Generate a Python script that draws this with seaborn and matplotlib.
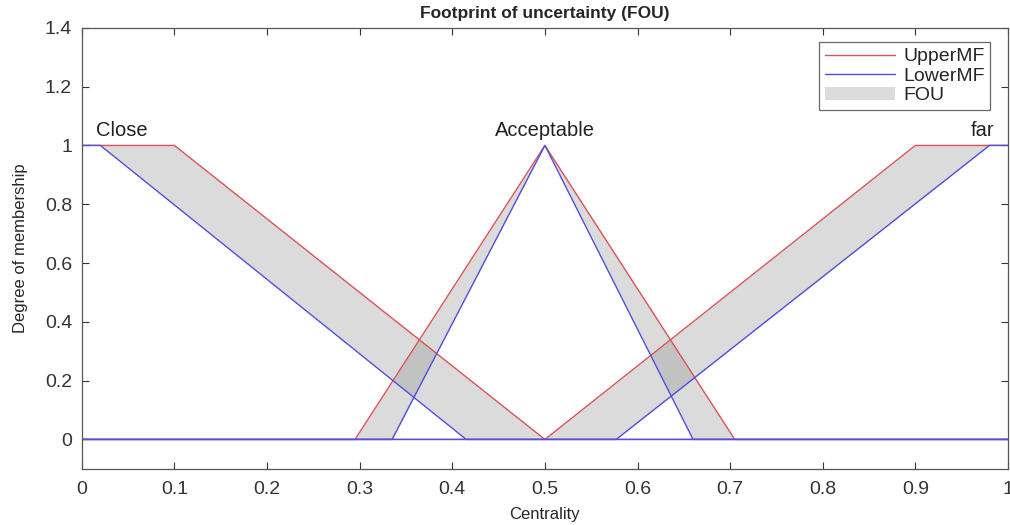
import numpy as np
import pandas as pd
import seaborn as sns
from matplotlib import pyplot as plt
from matplotlib.patches import Patch
from matplotlib.lines import Line2D

# membership function breakpoints (centrality, degree)
mf_names = ['Close', 'Acceptable', 'far']
upper_x = [[0.0, 0.1, 0.5, 1.0], [0.0, 0.295, 0.5, 0.705, 1.0], [0.0, 0.5, 0.9, 1.0]]
upper_y = [[1.0, 1.0, 0.0, 0.0], [0.0, 0.0, 1.0, 0.0, 0.0], [0.0, 0.0, 1.0, 1.0]]
lower_x = [[0.0, 0.02, 0.415, 1.0], [0.0, 0.335, 0.5, 0.66, 1.0], [0.0, 0.577, 0.98, 1.0]]
lower_y = [[1.0, 1.0, 0.0, 0.0], [0.0, 0.0, 1.0, 0.0, 0.0], [0.0, 0.0, 1.0, 1.0]]
label_x = [0.015, 0.5, 0.985]
label_y = 1.02
label_ha = ['left', 'center', 'right']

red = '#d9535a'
blue = '#5050dc'
fou = '#8a8a8a'

if __name__ == '__main__':
    sns.set_style('ticks')
    plt.rcParams['font.family'] = ['Liberation Sans', 'DejaVu Sans']

    rows = []
    for i, name in enumerate(mf_names):
        for x, y in zip(upper_x[i], upper_y[i]):
            rows.append({'mf': name, 'kind': 'UpperMF', 'x': x, 'y': y})
        for x, y in zip(lower_x[i], lower_y[i]):
            rows.append({'mf': name, 'kind': 'LowerMF', 'x': x, 'y': y})
    Data = pd.DataFrame(rows)
    Data['unit'] = Data['mf'] + Data['kind']

    fig = plt.figure(figsize=(10.1, 5.25), dpi=100)
    ax = fig.add_axes([0.081, 0.107, 0.917, 0.84])

    # FOU shading
    for i in range(len(mf_names)):
        xs = np.unique(np.concatenate([upper_x[i], lower_x[i]]))
        up = np.interp(xs, upper_x[i], upper_y[i])
        lo = np.interp(xs, lower_x[i], lower_y[i])
        ax.fill_between(xs, lo, up, color=fou, alpha=0.3, linewidth=0)

    sns.lineplot(data=Data[Data['kind'] == 'UpperMF'], x='x', y='y', units='unit',
                 estimator=None, sort=False, color=red, linewidth=1.0, ax=ax)
    sns.lineplot(data=Data[Data['kind'] == 'LowerMF'], x='x', y='y', units='unit',
                 estimator=None, sort=False, color=blue, linewidth=1.0, ax=ax)

    for i, name in enumerate(mf_names):
        ax.text(label_x[i], label_y, name, ha=label_ha[i], va='bottom', fontsize=14.5, color='#222222')

    ax.set_xlim(0, 1)
    ax.set_ylim(-0.1, 1.4)
    ax.set_xticks(np.arange(0, 1.01, 0.1))
    ax.set_xticklabels(['0', '0.1', '0.2', '0.3', '0.4', '0.5', '0.6', '0.7', '0.8', '0.9', '1'])
    ax.set_yticks(np.arange(0, 1.41, 0.2))
    ax.set_yticklabels(['0', '0.2', '0.4', '0.6', '0.8', '1', '1.2', '1.4'])
    ax.tick_params(direction='in', top=True, right=True, labelsize=14, colors='#333333', length=5)
    ax.tick_params(axis='x', pad=9)
    ax.tick_params(axis='y', pad=7)
    for s in ax.spines.values():
        s.set_visible(True)
        s.set_color('#555555')
        s.set_linewidth(0.9)

    ax.set_title('Footprint of uncertainty (FOU)', fontsize=12.5, fontweight='bold', pad=7)
    ax.set_xlabel('Centrality', fontsize=12, labelpad=6)
    ax.set_ylabel('Degree of membership', fontsize=12, labelpad=12)

    handles = [Line2D([], [], color=red, linewidth=1.0),
               Line2D([], [], color=blue, linewidth=1.0),
               Patch(facecolor='#dcdcdc', edgecolor='none')]
    leg = ax.legend(handles, ['UpperMF', 'LowerMF', 'FOU'], loc='upper right',
                    bbox_to_anchor=(0.981, 0.968), fontsize=14, frameon=True, fancybox=False,
                    handlelength=3.6, handletextpad=0.4, borderpad=0.3, labelspacing=0.1,
                    borderaxespad=0)
    leg.get_frame().set_edgecolor('#444444')
    leg.get_frame().set_linewidth(0.9)

    plt.savefig('out.png', dpi=100)
